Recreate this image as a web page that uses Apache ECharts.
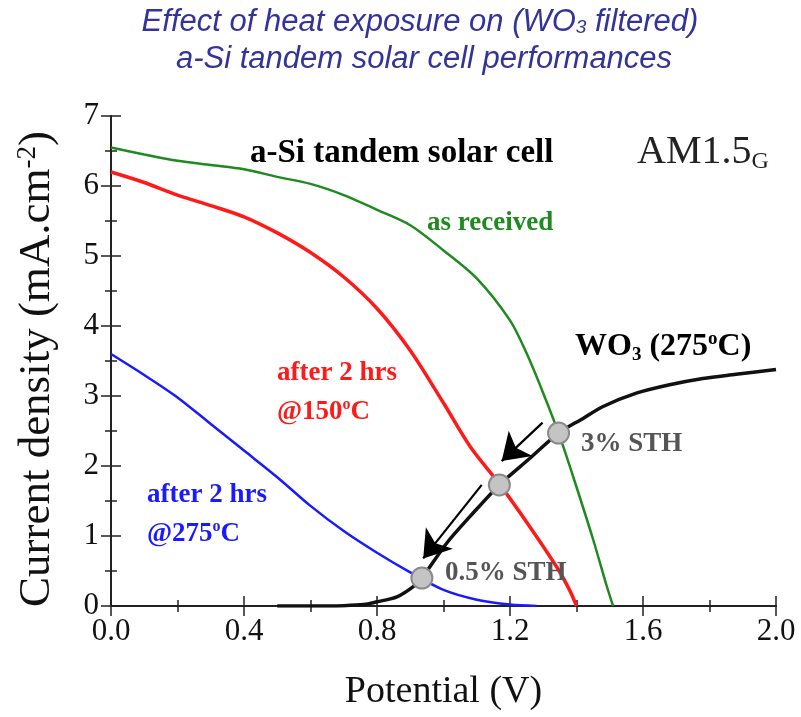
<!DOCTYPE html>
<html>
<head>
<meta charset="utf-8">
<script src="https://cdn.jsdelivr.net/npm/echarts@6/dist/echarts.min.js"></script>
<style>
  html, body { margin: 0; padding: 0; background: #fff; }
  #chart { width: 801px; height: 717px; }
</style>
</head>
<body>
<div id="chart"></div>
<script>
// J-V curves (potential in V, current density in mA/cm2)
var asReceivedV = [0, 0.1, 0.2, 0.3, 0.4, 0.5, 0.6, 0.7, 0.8, 0.9, 1.0, 1.1, 1.2, 1.25, 1.3, 1.35, 1.4, 1.45, 1.49, 1.51];
var asReceivedJ = [6.55, 6.45, 6.36, 6.3, 6.24, 6.13, 6.03, 5.87, 5.66, 5.44, 5.08, 4.68, 4.08, 3.61, 3.04, 2.42, 1.7, 0.95, 0.3, 0];

var heat150V = [0, 0.1, 0.2, 0.3, 0.4, 0.5, 0.6, 0.7, 0.8, 0.9, 1.0, 1.08, 1.17, 1.26, 1.34, 1.38, 1.4];
var heat150J = [6.2, 6.05, 5.87, 5.72, 5.56, 5.33, 5.05, 4.7, 4.25, 3.65, 2.9, 2.28, 1.73, 1.13, 0.56, 0.22, 0];

var heat275V = [0, 0.1, 0.2, 0.3, 0.4, 0.5, 0.6, 0.7, 0.8, 0.9, 1.0, 1.1, 1.2, 1.28];
var heat275J = [3.6, 3.3, 2.98, 2.6, 2.22, 1.84, 1.43, 1.07, 0.76, 0.48, 0.23, 0.09, 0.02, 0];

var wo3V = [0.5, 0.6, 0.7, 0.76, 0.8, 0.86, 0.91, 0.935, 1.01, 1.08, 1.168, 1.26, 1.346, 1.42, 1.48, 1.58, 1.68, 1.78, 1.88, 2.0];
var wo3J = [0, 0, 0.005, 0.02, 0.06, 0.13, 0.28, 0.4, 0.9, 1.28, 1.73, 2.11, 2.47, 2.68, 2.85, 3.04, 3.16, 3.25, 3.31, 3.38];

// operating points (intersections) and the arrows between them
var opV = [0.935, 1.168, 1.346];
var opJ = [0.4, 1.73, 2.47];
var arrowFrom = [[1.298, 2.62], [1.115, 1.73]];
var arrowTo = [[1.175, 2.07], [0.939, 0.68]];

var xTicks = ['0.0', '0.4', '0.8', '1.2', '1.6', '2.0'];

var chart = echarts.init(document.getElementById('chart'));
var serif = '"Liberation Serif", "Times New Roman", serif';
var sans = '"Liberation Sans", Arial, sans-serif';

function pairs(xs, ys) {
  return xs.map(function (v, i) { return [v, ys[i]]; });
}

// ticks point into the plot; minor ticks ignore "inside", so flip their length
var tickStyle = { show: true, inside: true, length: 10, lineStyle: { color: '#222', width: 1.5 } };
var minorStyle = { show: true, splitNumber: 2, length: -6, lineStyle: { color: '#222', width: 1.5 } };
var lineAx = { show: true, lineStyle: { color: '#222', width: 2 } };

// padding on one side shifts a rich token up (bottom pad) or down (top pad)
function label(text, x, y, color, size, weight) {
  weight = weight || 'bold';
  var small = Math.round(size * 0.6);
  var shift = Math.round(size * 0.5);
  return {
    type: 'text', x: x, y: y, z: 100,
    style: {
      text: text, fill: color, font: weight + ' ' + size + 'px ' + serif,
      textVerticalAlign: 'middle',
      rich: {
        sup: { fontSize: small, fill: color, fontWeight: weight, fontFamily: serif, padding: [0, 0, shift, 0] },
        sub: { fontSize: small, fill: color, fontWeight: weight, fontFamily: serif, padding: [shift, 0, 0, 0] }
      }
    }
  };
}

chart.setOption({
  backgroundColor: '#fff',
  animation: false,
  grid: { left: 111, right: 25, top: 116, bottom: 111 },
  xAxis: [
    {
      type: 'value', min: 0, max: 2, interval: 0.4,
      axisLine: lineAx, axisTick: tickStyle, minorTick: minorStyle, splitLine: { show: false },
      axisLabel: {
        color: '#111', fontFamily: serif, fontSize: 31, margin: 10,
        formatter: function (v) { return xTicks[Math.round(v / 0.4)]; }
      },
      name: 'Potential (V)', nameLocation: 'middle', nameGap: 67,
      nameTextStyle: { color: '#111', fontFamily: serif, fontSize: 38 }
    },
    {
      type: 'value', position: 'top', min: 0, max: 2, interval: 0.4,
      axisLine: lineAx, axisTick: tickStyle, minorTick: minorStyle, splitLine: { show: false },
      axisLabel: { show: false }
    }
  ],
  yAxis: [
    {
      type: 'value', min: 0, max: 7, interval: 1,
      axisLine: lineAx, axisTick: tickStyle, minorTick: minorStyle, splitLine: { show: false },
      axisLabel: { color: '#111', fontFamily: serif, fontSize: 31, margin: 12 },
      name: 'Current density (mA.cm{sup|-2})', nameLocation: 'middle', nameGap: 50, nameRotate: 90,
      nameTextStyle: {
        color: '#111', fontFamily: serif, fontSize: 45, padding: [0, 16, 0, 0],
        rich: { sup: { color: '#111', fontFamily: serif, fontSize: 27, padding: [0, 0, 20, 0] } }
      }
    },
    {
      type: 'value', position: 'right', min: 0, max: 7, interval: 1,
      axisLine: lineAx, axisTick: tickStyle, minorTick: minorStyle, splitLine: { show: false },
      axisLabel: { show: false }
    }
  ],
  series: [
    {
      name: 'as received', type: 'line', data: pairs(asReceivedV, asReceivedJ),
      showSymbol: false, smooth: 0.3, lineStyle: { color: '#1f8a1f', width: 2.5 }, z: 3
    },
    {
      name: 'after 2 hrs @150C', type: 'line', data: pairs(heat150V, heat150J),
      showSymbol: false, smooth: 0.3, lineStyle: { color: '#ff1a1a', width: 3.5 }, z: 3
    },
    {
      name: 'after 2 hrs @275C', type: 'line', data: pairs(heat275V, heat275J),
      showSymbol: false, smooth: 0.3, lineStyle: { color: '#1a1aff', width: 2.5 }, z: 3
    },
    {
      name: 'WO3 (275C)', type: 'line', data: pairs(wo3V, wo3J),
      showSymbol: false, smooth: 0.3, lineStyle: { color: '#111', width: 3.5 }, z: 4
    },
    {
      name: 'arrows', type: 'lines', coordinateSystem: 'cartesian2d', z: 5,
      symbol: ['none', 'arrow'], symbolSize: 26,
      lineStyle: { color: '#000', width: 2.2, opacity: 1 },
      data: arrowFrom.map(function (p, i) { return { coords: [p, arrowTo[i]] }; })
    },
    {
      name: 'operating points', type: 'scatter', data: pairs(opV, opJ), z: 6,
      symbolSize: 21,
      itemStyle: { color: '#c4c4c4', borderColor: '#8a8a8a', borderWidth: 2, opacity: 1 }
    }
  ],
  graphic: [
    {
      type: 'text', x: 420, y: 22, z: 100,
      style: {
        text: 'Effect of heat exposure on (WO{s|3} filtered)', fill: '#333399',
        font: 'italic 31px ' + sans, textAlign: 'center', textVerticalAlign: 'middle',
        rich: {
          s: { fontSize: 19, fontStyle: 'italic', fontFamily: sans, fill: '#333399', padding: [12, 0, 0, 0] }
        }
      }
    },
    {
      type: 'text', x: 424, y: 59, z: 100,
      style: {
        text: 'a-Si tandem solar cell performances', fill: '#333399',
        font: 'italic 31px ' + sans, textAlign: 'center', textVerticalAlign: 'middle'
      }
    },
    label('a-Si tandem solar cell', 250, 153, '#000', 33),
    label('AM1.5{sub|G}', 637, 152, '#222', 40, 'normal'),
    label('as received', 427, 223, '#1f8a1f', 27),
    label('WO{sub|3} (275{sup|o}C)', 575, 347, '#000', 32),
    label('after 2 hrs', 277, 373, '#ff1a1a', 27),
    label('@150{sup|o}C', 277, 412, '#ff1a1a', 27),
    label('after 2 hrs', 147, 495, '#1a1aff', 27),
    label('@275{sup|o}C', 147, 534, '#1a1aff', 27),
    label('3% STH', 581, 444, '#555', 27),
    label('0.5% STH', 445, 573, '#555', 27)
  ]
});
</script>
</body>
</html>
